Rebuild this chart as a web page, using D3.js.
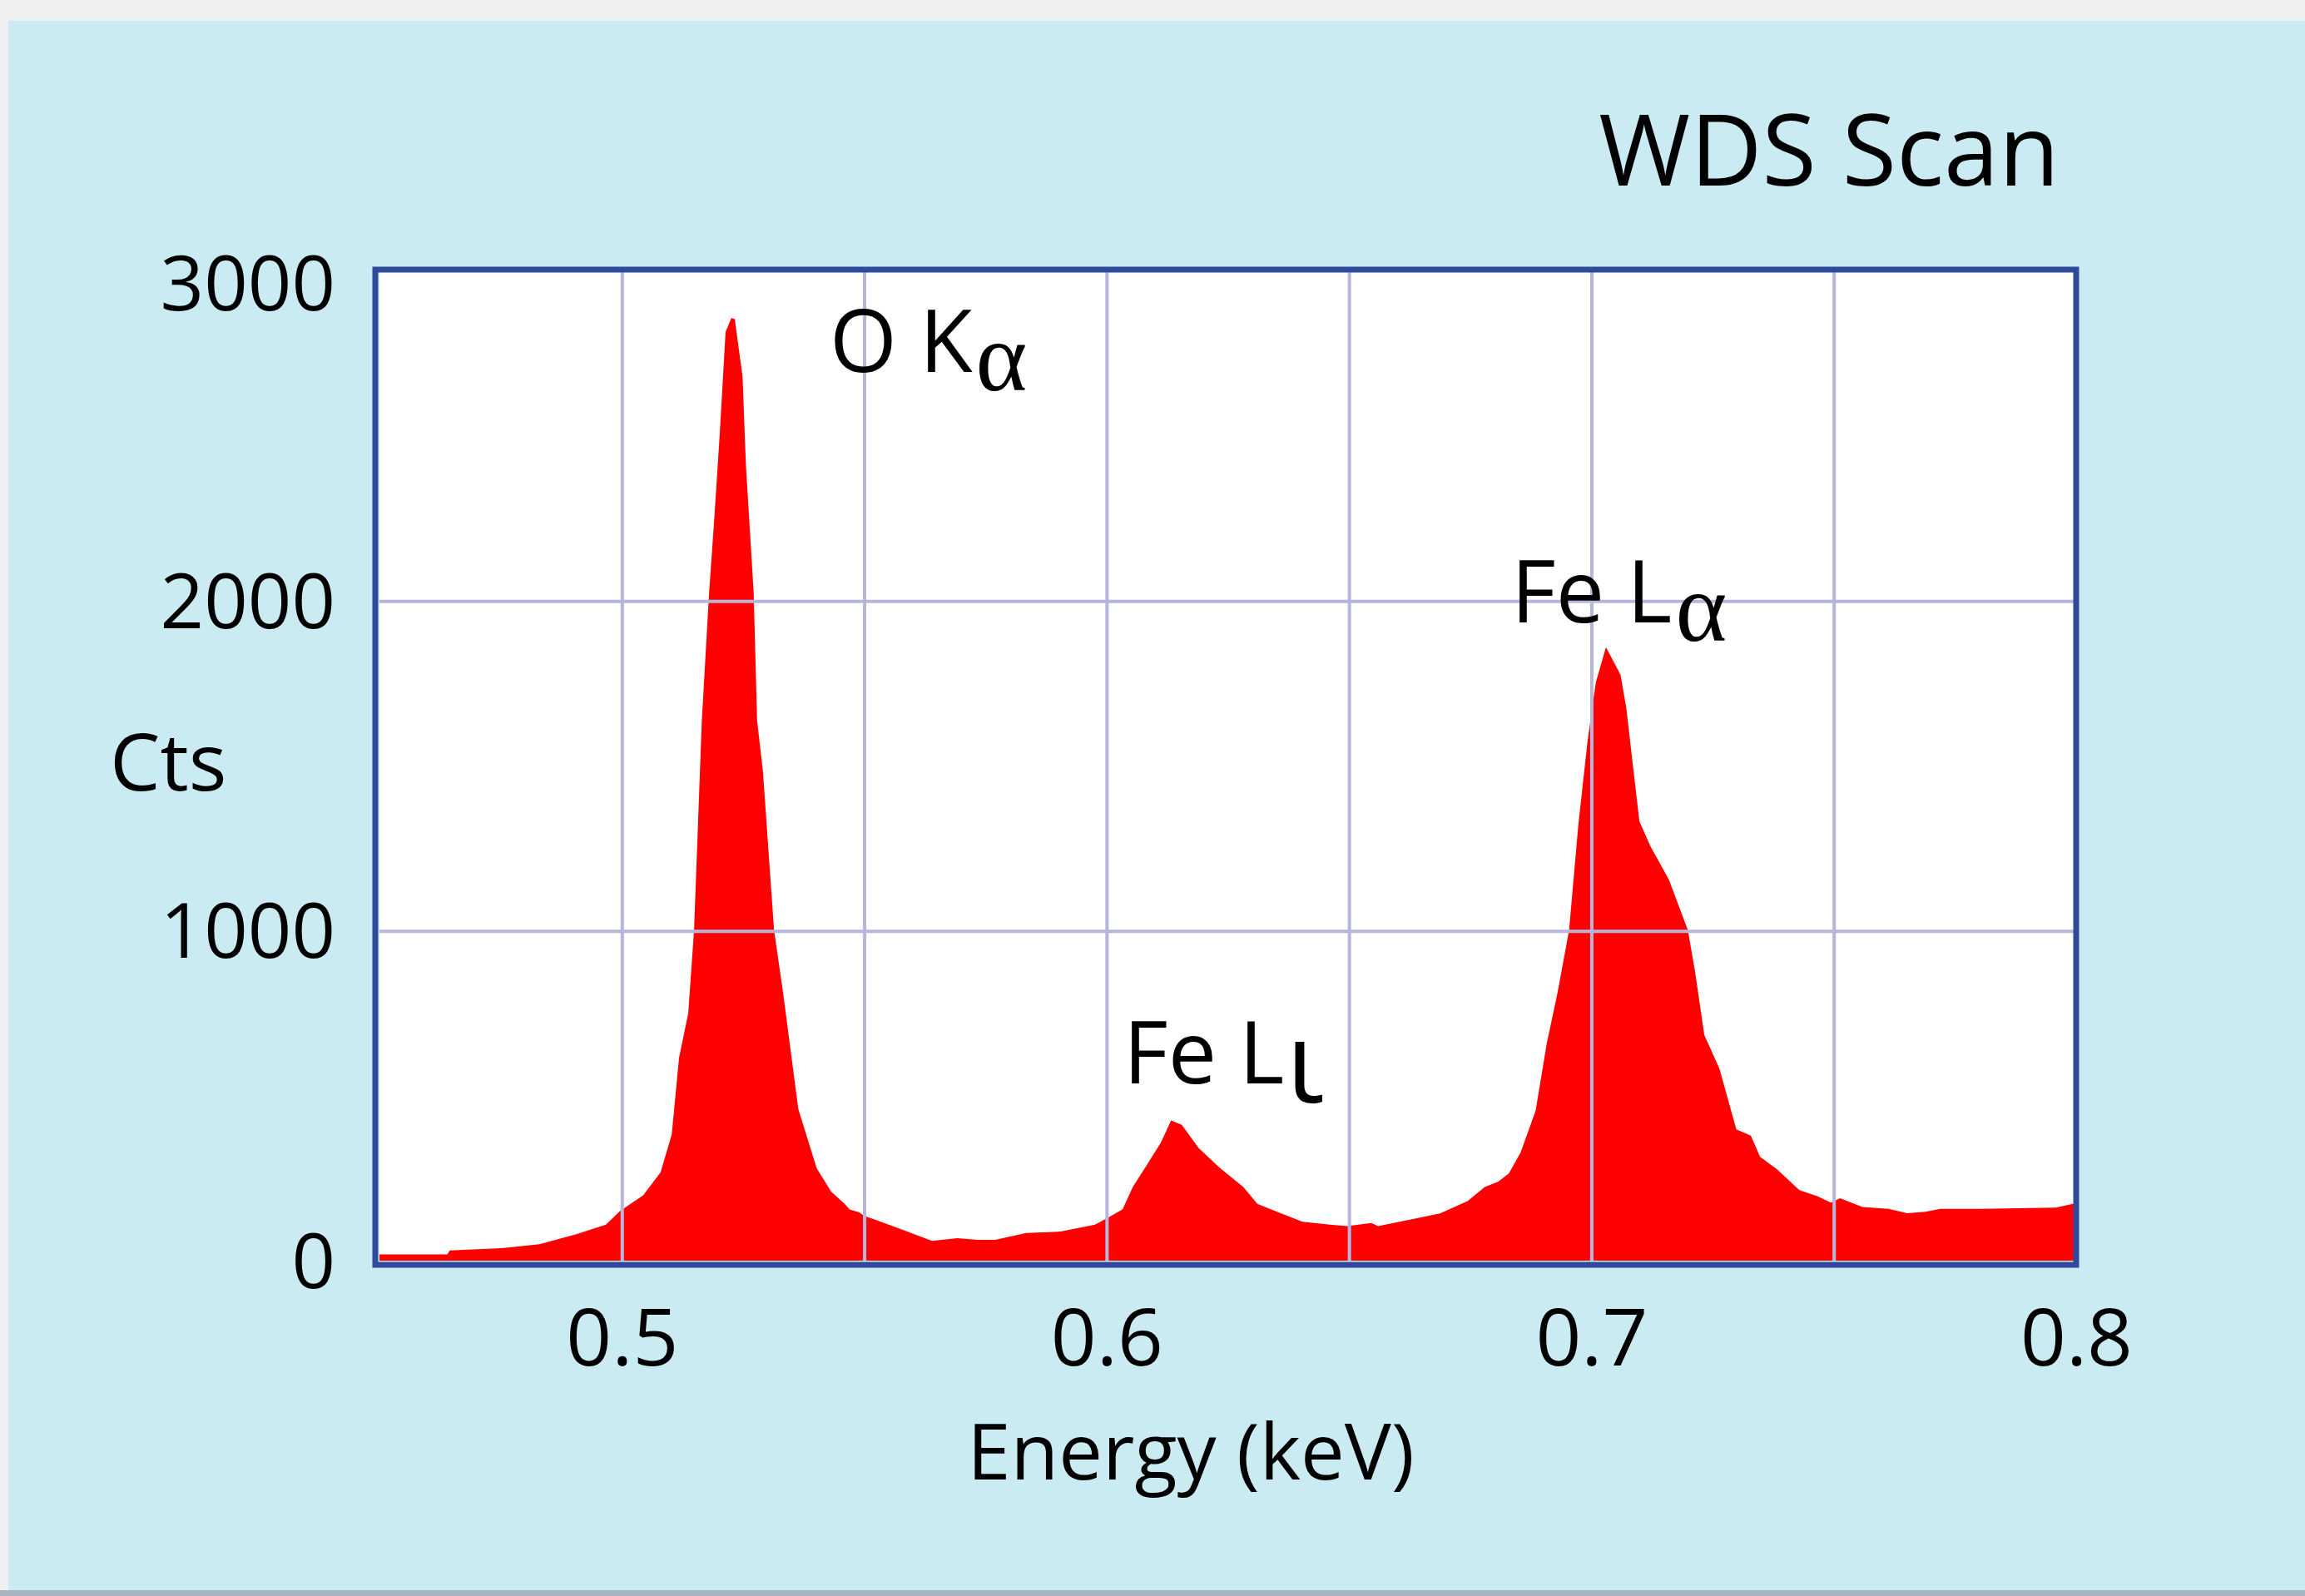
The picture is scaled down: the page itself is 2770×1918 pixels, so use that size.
<!DOCTYPE html>
<html>
<head>
<meta charset="utf-8">
<script src="https://d3js.org/d3.v7.min.js"></script>
<style>
  body { margin: 0; background: #efeff1; }
  svg { display: block; }
  text { font-family: "Open Sans", "Noto Sans", sans-serif; fill: #000; }
</style>
</head>
<body>
<svg id="chart" width="2770" height="1918"></svg>
<script>
// energy (keV) and counts
var energy = [
  0.450, 0.464, 0.4645, 0.4752, 0.4830, 0.4906, 0.4967, 0.4996, 0.5044, 0.5080,
  0.5103, 0.5118, 0.5137, 0.5149, 0.5165, 0.5180, 0.5191, 0.5202, 0.5214, 0.5226,
  0.5233, 0.5249, 0.5256, 0.5272, 0.5279, 0.5291, 0.5314, 0.5333, 0.5364, 0.5402,
  0.5432, 0.5458, 0.5470, 0.5489, 0.5501, 0.5519, 0.5567, 0.5640, 0.5692, 0.5735,
  0.5770, 0.5834, 0.5905, 0.5976, 0.6004, 0.6033, 0.6054, 0.6083, 0.6112, 0.6133,
  0.6155, 0.6190, 0.6233, 0.6282, 0.6311, 0.6368, 0.6404, 0.6461, 0.6496, 0.6546,
  0.6560, 0.6617, 0.6688, 0.6745, 0.6780, 0.6808, 0.6830, 0.6854, 0.6885, 0.6908,
  0.6930, 0.6954, 0.6973, 0.6992, 0.7009, 0.7030, 0.7060, 0.7072, 0.7099, 0.7122,
  0.7160, 0.7199, 0.7214, 0.7233, 0.7264, 0.7299, 0.7329, 0.7348, 0.7383, 0.7429,
  0.7467, 0.7494, 0.7513, 0.7559, 0.7613, 0.7651, 0.7689, 0.7720, 0.7804, 0.7958,
  0.7995, 0.8000
];
var counts = [
  19, 19, 31, 38, 50, 80, 109, 150, 198, 268,
  383, 615, 750, 1002, 1638, 2025, 2256, 2508, 2816, 2859,
  2855, 2681, 2410, 2025, 1638, 1484, 1002, 808, 460, 280,
  209, 175, 155, 147, 135, 126, 100, 60, 68, 63,
  63, 84, 88, 109, 131, 156, 223, 290, 358, 425,
  412, 341, 282, 223, 172, 139, 118, 109, 105, 114,
  105, 122, 143, 181, 223, 240, 265, 328, 455, 659,
  811, 1002, 1320, 1574, 1752, 1860, 1777, 1676, 1332, 1256,
  1155, 1002, 875, 684, 583, 398, 379, 315, 277, 214,
  195, 176, 189, 163, 157, 144, 148, 157, 157, 161,
  173, 175
];

var xTicks = [0.5, 0.6, 0.7, 0.8];
var yTicks = [0, 1000, 2000, 3000];
var xGrid = [0.5, 0.55, 0.6, 0.65, 0.7, 0.75];
var yGrid = [1000, 2000];

var peaks = [
  { name: "O K", sub: "α", x: 997, y: 447 },
  { name: "Fe L", sub: "α", x: 1816, y: 748 }
];

var svg = d3.select("#chart");

// page background
svg.append("rect").attr("width", 2770).attr("height", 1918).attr("fill", "#efeff1");
svg.append("rect").attr("x", 10).attr("y", 25).attr("width", 2760).attr("height", 1888)
    .attr("fill", "#cbebf3");
svg.append("rect").attr("x", 0).attr("y", 1911).attr("width", 2770).attr("height", 7)
    .attr("fill", "#a7b6be");

var x = d3.scaleLinear().domain([0.45, 0.8]).range([456, 2495]);
var y = d3.scaleLinear().domain([0, 3000]).range([1515, 326]);

svg.append("rect")
    .attr("x", x(0.45)).attr("y", y(3000))
    .attr("width", x(0.8) - x(0.45)).attr("height", y(0) - y(3000))
    .attr("fill", "#fff");

svg.append("clipPath").attr("id", "plot")
  .append("rect")
    .attr("x", x(0.45)).attr("y", y(3000))
    .attr("width", x(0.8) - x(0.45)).attr("height", y(0) - y(3000));

var pts = energy.map(function (e, i) { return [e, counts[i]]; });

var area = d3.area()
    .x(function (d) { return x(d[0]); })
    .y0(y(0))
    .y1(function (d) { return y(d[1]); });

svg.append("path")
    .datum(pts)
    .attr("clip-path", "url(#plot)")
    .attr("fill", "#ff0000")
    .attr("d", area);

// grid on top of the spectrum
svg.append("g")
    .attr("transform", "translate(0," + y(3000) + ")")
    .call(d3.axisBottom(x).tickValues(xGrid).tickSize(y(0) - y(3000)).tickFormat(""))
    .call(function (g) { g.select(".domain").remove(); })
    .selectAll("line").attr("stroke", "#b6b6dc").attr("stroke-width", 4);

svg.append("g")
    .attr("transform", "translate(" + x(0.45) + ",0)")
    .call(d3.axisRight(y).tickValues(yGrid).tickSize(x(0.8) - x(0.45)).tickFormat(""))
    .call(function (g) { g.select(".domain").remove(); })
    .selectAll("line").attr("stroke", "#b6b6dc").attr("stroke-width", 4);

// frame
svg.append("rect")
    .attr("x", 451).attr("y", 324)
    .attr("width", 2044).attr("height", 1196)
    .attr("fill", "none")
    .attr("stroke", "#2f4a9a")
    .attr("stroke-width", 7);

// axes labels
var yAxis = svg.append("g")
    .attr("transform", "translate(" + x(0.45) + ",0)")
    .call(d3.axisLeft(y).tickValues(yTicks).tickSize(0).tickPadding(53).tickFormat(d3.format("d")));
yAxis.select(".domain").remove();
yAxis.selectAll("text")
    .attr("font-size", 92)
    .attr("font-family", null)
    .attr("fill", "#000")
    .attr("dy", function (d) { return d === 3000 ? "0.5em" : "0.35em"; });

var xAxis = svg.append("g")
    .attr("transform", "translate(0," + y(0) + ")")
    .call(d3.axisBottom(x).tickValues(xTicks).tickSize(0).tickPadding(58).tickFormat(d3.format(".1f")));
xAxis.select(".domain").remove();
xAxis.selectAll("text")
    .attr("font-size", 96)
    .attr("font-family", null)
    .attr("fill", "#000");

svg.append("text")
    .attr("x", 1431).attr("y", 1778)
    .attr("text-anchor", "middle")
    .attr("font-size", 94)
    .text("Energy (keV)");

svg.append("text")
    .attr("x", 132).attr("y", 950)
    .attr("font-size", 96)
    .text("Cts");

svg.append("text")
    .attr("x", 2475).attr("y", 223)
    .attr("text-anchor", "end")
    .attr("font-size", 119)
    .text("WDS Scan");

// peak labels
peaks.forEach(function (p) {
  var t = svg.append("text")
      .attr("x", p.x).attr("y", p.y)
      .attr("font-size", 104);
  t.append("tspan").text(p.name);
  t.append("tspan")
      .attr("dx", 4).attr("dy", 22)
      .style("font-family", "'Liberation Serif', 'DejaVu Serif', serif")
      .attr("font-size", 118)
      .text(p.sub);
});

var fl = svg.append("text")
    .attr("x", 1350).attr("y", 1302)
    .attr("font-size", 104);
fl.append("tspan").text("Fe L");
fl.append("tspan")
    .attr("dx", 2).attr("dy", 23)
    .attr("font-size", 135)
    .text("ι");
</script>
</body>
</html>
